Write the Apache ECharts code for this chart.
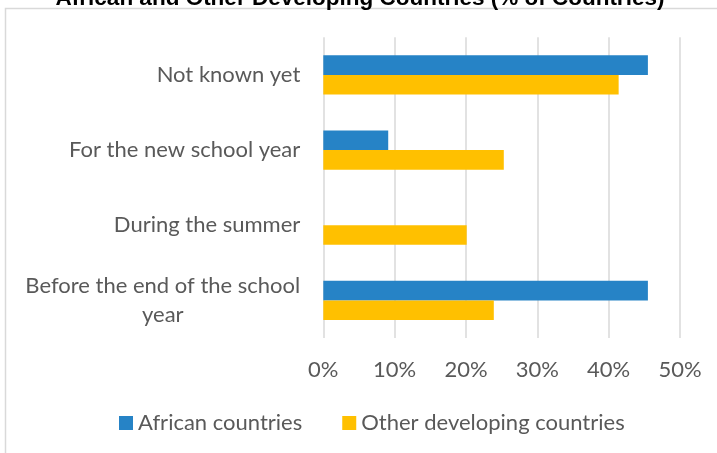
<!DOCTYPE html>
<html>
<head>
<meta charset="utf-8">
<script src="https://cdn.jsdelivr.net/npm/echarts@6/dist/echarts.min.js"></script>
<style>
  html, body { margin: 0; padding: 0; background: #ffffff; }
  #chart { width: 717px; height: 453px; }
</style>
</head>
<body>
<div id="chart"></div>
<script>
// Categories, top to bottom
const categories = [
  'Not known yet',
  'For the new school year',
  'During the summer',
  'Before the end of the school\nyear'
];
// Share of countries, in percent
const africanCountries = [45.5, 9.1, 0, 45.5];
const otherDeveloping = [41.4, 25.3, 20.1, 23.9];
const seriesNames = ['African countries', 'Other developing countries'];
const titleText = 'African and Other Developing Countries (% of Countries)';

const labelFont = 'Lato, "Open Sans", sans-serif';
const labelSize = 22;
const textGrey = '#595959';

// Width of a string in the label font, used to centre wrapped lines
const measureCtx = document.createElement('canvas').getContext('2d');
measureCtx.font = labelSize + 'px ' + labelFont;
function textWidth(s) { return Math.ceil(measureCtx.measureText(s).width); }

// Wrapped category labels: the block sits right-aligned, each line centred within it
function categoryLabel(value) {
  const lines = value.split('\n');
  if (lines.length === 1) return value;
  const w = Math.max.apply(null, lines.map(textWidth));
  categoryLabel.rich.c.width = w;
  return lines.map(function (l) { return '{c|' + l + '}'; }).join('\n');
}
categoryLabel.rich = { c: { align: 'center', width: 0, lineHeight: 29, fontSize: labelSize, fontFamily: labelFont, color: textGrey } };
categories.forEach(categoryLabel);

const chart = echarts.init(document.getElementById('chart'), null, { renderer: 'canvas' });

chart.setOption({
  animation: false,
  backgroundColor: '#ffffff',
  graphic: [
    {
      type: 'rect',
      shape: { x: 5.5, y: 8.5, width: 760, height: 500 },
      style: { fill: 'none', stroke: '#d9d9d9', lineWidth: 1.5 },
      silent: true
    },
    {
      type: 'text',
      x: 360,
      y: 10,
      style: {
        text: titleText,
        font: 'bold 22.5px "Liberation Sans", Arial, sans-serif',
        fill: '#000000',
        align: 'center',
        verticalAlign: 'bottom'
      },
      silent: true
    }
  ],
  grid: { left: 323.3, right: 37, top: 37.3, bottom: 115, containLabel: false },
  legend: {
    data: seriesNames,
    left: 114,
    top: 407,
    itemWidth: 14,
    itemHeight: 14,
    itemGap: 40,
    icon: 'rect',
    textStyle: { color: textGrey, fontSize: labelSize, fontFamily: labelFont, padding: [0, 0, 0, 0] }
  },
  xAxis: {
    type: 'value',
    min: 0,
    max: 50,
    interval: 10,
    axisLine: { show: false },
    axisTick: { show: false },
    splitLine: { show: true, lineStyle: { color: '#d9d9d9', width: 1.5 } },
    axisLabel: {
      formatter: '{value}%',
      color: textGrey,
      fontSize: labelSize,
      fontFamily: labelFont,
      margin: 21
    }
  },
  yAxis: {
    type: 'category',
    data: categories,
    inverse: true,
    axisLine: { show: false },
    axisTick: { show: false },
    axisLabel: {
      formatter: categoryLabel,
      rich: categoryLabel.rich,
      color: textGrey,
      fontSize: labelSize,
      fontFamily: labelFont,
      margin: 23,
      align: 'right',
      lineHeight: 29
    }
  },
  series: [
    {
      name: seriesNames[0],
      type: 'bar',
      data: africanCountries,
      barWidth: 19.6,
      barGap: '0%',
      itemStyle: { color: '#2683C6' }
    },
    {
      name: seriesNames[1],
      type: 'bar',
      data: otherDeveloping,
      barWidth: 19.6,
      barGap: '0%',
      itemStyle: { color: '#FFC000' }
    }
  ]
});
</script>
</body>
</html>
